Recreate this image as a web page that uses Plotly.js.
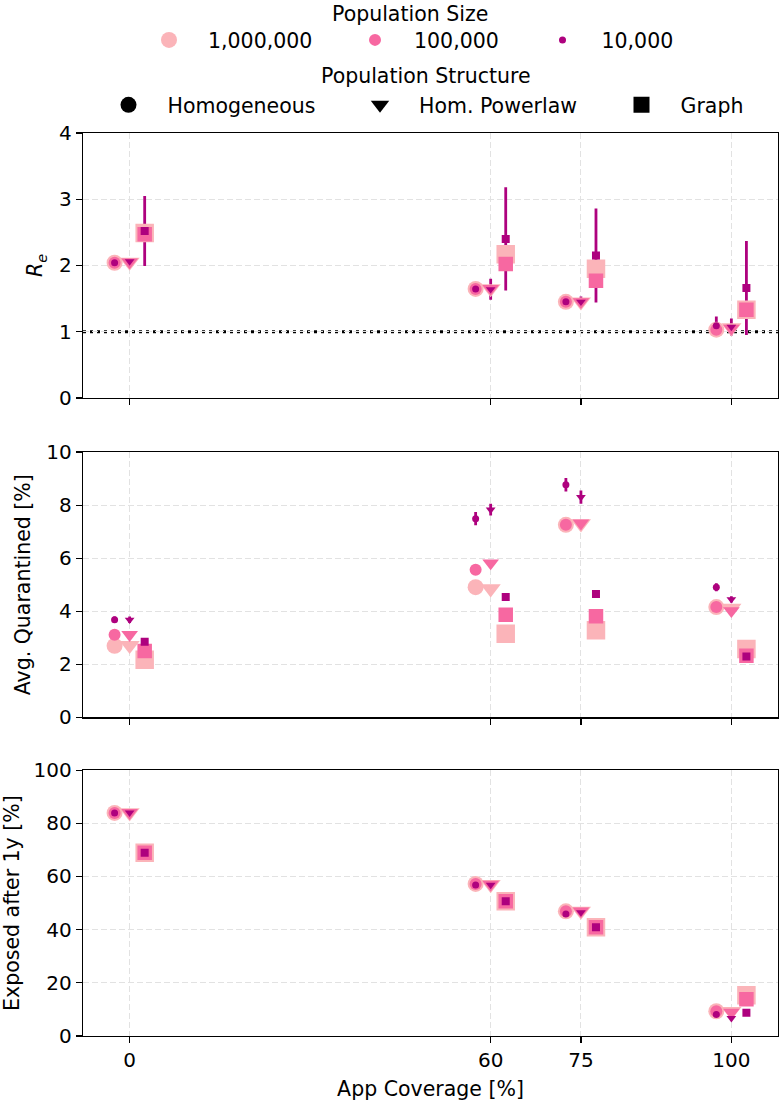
<!DOCTYPE html>
<html><head><meta charset="utf-8">
<script src="https://cdn.plot.ly/plotly-3.0.1.min.js"></script>
<style>html,body{margin:0;padding:0;background:#fff}</style>
</head><body><div id="chart" style="width:780px;height:1101px"></div>
<script>
// ---------------- data ----------------
const coverage = [0, 60, 75, 100];
const coverageTicks = ['0', '60', '75', '100'];
const sizeLabels = ['1,000,000', '100,000', '10,000'];
const structureLabels = ['Homogeneous', 'Hom. Powerlaw', 'Graph'];

// R_e
const re_1M_hom   = [2.04, 1.645, 1.45, 1.03];
const re_1M_pow   = [2.05, 1.65, 1.45, 1.06];
const re_1M_graph = [2.49, 2.17, 1.95, 1.33];
const re_100k_hom   = [2.04, 1.645, 1.45, 1.03];
const re_100k_pow   = [2.05, 1.65, 1.45, 1.05];
const re_100k_graph = [2.47, 2.02, 1.77, 1.33];
const re_10k_hom   = [2.04, 1.645, 1.45, 1.09];
const re_10k_pow   = [2.06, 1.64, 1.45, 1.07];
const re_10k_graph = [2.52, 2.40, 2.15, 1.66];
const re_10k_hom_err   = [0.02, 0.05, 0.05, 0.14];
const re_10k_pow_err   = [0.03, 0.16, 0.08, 0.13];
const re_10k_graph_err = [0.53, 0.78, 0.71, 0.71];
const reThreshold = 1;

// Avg. Quarantined [%]
const q_1M_hom   = [2.70, 4.91, 7.26, 4.16];
const q_1M_pow   = [2.72, 4.85, 7.30, 4.12];
const q_1M_graph = [2.17, 3.15, 3.29, 2.58];
const q_100k_hom   = [3.12, 5.57, 7.26, 4.16];
const q_100k_pow   = [3.12, 5.82, 7.32, 4.02];
const q_100k_graph = [2.50, 3.87, 3.81, 2.32];
const q_10k_hom   = [3.68, 7.49, 8.77, 4.91];
const q_10k_pow   = [3.68, 7.83, 8.30, 4.45];
const q_10k_graph = [2.85, 4.54, 4.65, 2.30];
const q_10k_hom_err   = [0.12, 0.25, 0.25, 0.15];
const q_10k_pow_err   = [0.12, 0.22, 0.25, 0.12];
const q_10k_graph_err = [0.12, 0.15, 0.15, 0.10];

// Exposed after 1y [%]
const e_1M_hom   = [83.9, 57.2, 46.9, 9.3];
const e_1M_pow   = [84.0, 57.0, 47.0, 9.3];
const e_1M_graph = [68.9, 50.7, 40.9, 15.3];
const e_100k_hom   = [83.9, 57.2, 46.9, 9.3];
const e_100k_pow   = [84.0, 57.0, 47.0, 8.9];
const e_100k_graph = [68.9, 50.7, 40.9, 13.8];
const e_10k_hom   = [83.9, 56.8, 45.9, 8.1];
const e_10k_pow   = [84.0, 56.8, 46.5, 6.7];
const e_10k_graph = [68.9, 50.7, 40.9, 8.7];

// ---------------- styles ----------------
const sizeColors = ['#fbb4b9', '#f768a1', '#ae017e'];
const structSymbols = ['circle', 'triangle-down', 'square'];
const structOffsets = [-2.5, 0, 2.5];
const markerSizes = [[16, 12, 7], [17.5, 14.5, 8.5], [18.5, 14.5, 8]]; // [struct][size]
const FONT = 'DejaVu Sans';
const FS = 20.5;
const TFS = 20;

// ---------------- tables built from the arrays ----------------
const panels = [
  {xa: 'x', ya: 'y', vals: [[re_1M_hom, re_1M_pow, re_1M_graph], [re_100k_hom, re_100k_pow, re_100k_graph], [re_10k_hom, re_10k_pow, re_10k_graph]],
   err: [re_10k_hom_err, re_10k_pow_err, re_10k_graph_err]},
  {xa: 'x2', ya: 'y2', vals: [[q_1M_hom, q_1M_pow, q_1M_graph], [q_100k_hom, q_100k_pow, q_100k_graph], [q_10k_hom, q_10k_pow, q_10k_graph]],
   err: [q_10k_hom_err, q_10k_pow_err, q_10k_graph_err]},
  {xa: 'x3', ya: 'y3', vals: [[e_1M_hom, e_1M_pow, e_1M_graph], [e_100k_hom, e_100k_pow, e_100k_graph], [e_10k_hom, e_10k_pow, e_10k_graph]],
   err: null}
];

const traces = [];
panels.forEach(p => {
  // 10k error bars first, so they sit under the larger markers
  if (p.err) {
    for (let s = 0; s < 3; s++) {
      traces.push({
        type: 'scatter', mode: 'markers', xaxis: p.xa, yaxis: p.ya, showlegend: false, hoverinfo: 'skip',
        x: coverage.map(c => c + structOffsets[s]), y: p.vals[2][s],
        marker: {color: 'rgba(0,0,0,0)', size: 1},
        error_y: {type: 'data', array: p.err[s], visible: true, color: sizeColors[2], thickness: 2.8, width: 0}
      });
    }
  }
  for (let z = 0; z < 3; z++) {
    for (let s = 0; s < 3; s++) {
      traces.push({
        type: 'scatter', mode: 'markers', xaxis: p.xa, yaxis: p.ya, showlegend: false,
        x: coverage.map(c => c + structOffsets[s]), y: p.vals[z][s],
        marker: {color: sizeColors[z], symbol: structSymbols[s], size: markerSizes[s][z], line: {width: 0}}
      });
    }
  }
});

// legend entries
const ITEMW = 68;
const L = 83, R = 778, T = 133, B = 1036.5;
const PW = R - L, PH = B - T;
const px2x = px => (px - L) / PW;
const px2y = py => (B - py) / PH;
const sizeLegendX = [169, 375, 562.5];
const structLegendX = [128.5, 380, 641.5];
const legends = {};
const legendNames = ['legend', 'legend2', 'legend3', 'legend4', 'legend5', 'legend6'];
function legendAt(symX, cy) {
  return {x: px2x(symX - 5 - ITEMW / 2), xanchor: 'left', y: px2y(cy), yanchor: 'middle',
    orientation: 'v', itemwidth: ITEMW, bgcolor: 'rgba(0,0,0,0)', borderwidth: 0,
    font: {family: FONT, size: FS, color: 'black'}, itemclick: false, itemdoubleclick: false};
}
for (let z = 0; z < 3; z++) {
  legends[legendNames[z]] = legendAt(sizeLegendX[z], 40);
  traces.push({type: 'scatter', mode: 'markers', x: [null], y: [null], name: sizeLabels[z],
    legend: legendNames[z], showlegend: true,
    marker: {color: sizeColors[z], symbol: 'circle', size: [16, 12, 7][z]}});
}
for (let s = 0; s < 3; s++) {
  legends[legendNames[3 + s]] = legendAt(structLegendX[s], 105);
  traces.push({type: 'scatter', mode: 'markers', x: [null], y: [null], name: structureLabels[s],
    legend: legendNames[3 + s], showlegend: true,
    marker: {color: 'black', symbol: structSymbols[s], size: 16}});
}

const gridStyle = {showgrid: true, gridcolor: '#e2e2e2', gridwidth: 1, griddash: '6px,3px'};
const lineStyle = {showline: true, linecolor: 'black', linewidth: 1.3, mirror: true,
  ticks: 'outside', ticklen: 6, tickwidth: 1.3, tickcolor: 'black', zeroline: false,
  tickfont: {family: FONT, size: TFS, color: 'black'}};
function xAxis(anchor, labels) {
  return Object.assign({}, gridStyle, lineStyle, {anchor: anchor, range: [-7.75, 107.75],
    tickmode: 'array', tickvals: coverage, ticktext: coverageTicks, showticklabels: labels});
}
function yAxis(domain, range, dtick, title) {
  return Object.assign({}, gridStyle, lineStyle, {domain: domain, range: range, dtick: dtick, tick0: 0,
    title: {text: title, standoff: 10, font: {family: FONT, size: FS, color: 'black'}}});
}

const layout = {
  width: 780, height: 1101,
  margin: {l: L, r: 780 - R, t: T, b: 1101 - B},
  paper_bgcolor: 'white', plot_bgcolor: 'white',
  font: {family: FONT, size: FS, color: 'black'},
  xaxis: xAxis('y', false),
  xaxis2: xAxis('y2', false),
  xaxis3: Object.assign(xAxis('y3', true), {title: {text: 'App Coverage [%]', standoff: 14, font: {family: FONT, size: FS, color: 'black'}}}),
  yaxis: yAxis([0.7067, 1], [0, 4], 1, '<i>R</i><sub><i>e</i></sub>'),
  yaxis2: yAxis([0.3528, 0.6466], [0, 10], 2, 'Avg. Quarantined [%]'),
  yaxis3: yAxis([0, 0.2944], [0, 100], 20, 'Exposed after 1y [%]'),
  shapes: [{type: 'line', xref: 'x domain', yref: 'y', x0: 0, x1: 1, y0: reThreshold, y1: reThreshold,
    layer: 'below', line: {color: 'black', width: 3, dash: '3px,4px'}}],
  annotations: [
    {text: 'Population Size', xref: 'paper', yref: 'paper', x: px2x(410), y: px2y(1),
     xanchor: 'center', yanchor: 'top', showarrow: false, borderpad: 0, font: {family: FONT, size: FS, color: 'black'}},
    {text: 'Population Structure', xref: 'paper', yref: 'paper', x: px2x(426), y: px2y(75.5),
     xanchor: 'center', yanchor: 'middle', showarrow: false, font: {family: FONT, size: FS, color: 'black'}}
  ],
  showlegend: true
};
Object.assign(layout, legends);

Plotly.newPlot('chart', traces, layout, {staticPlot: true, displayModeBar: false});
</script>
</body></html>
